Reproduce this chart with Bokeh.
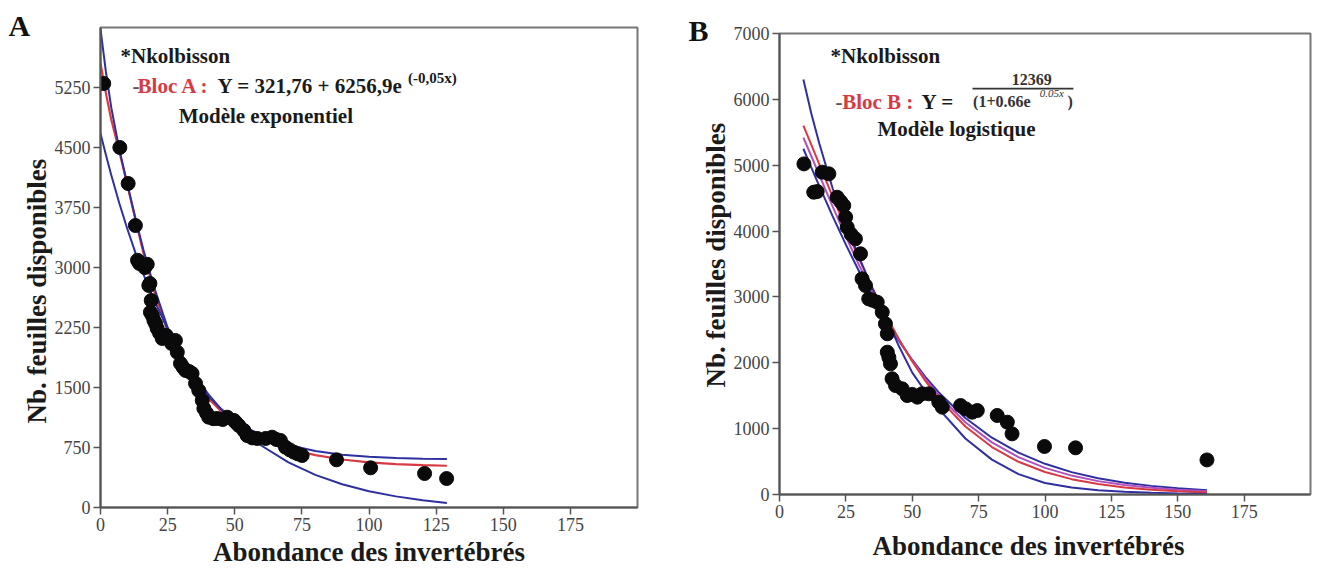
from bokeh.plotting import figure
from bokeh.models import Range1d, Label, FixedTicker, BoxAnnotation, Title
from bokeh.embed import file_html
from bokeh.resources import INLINE

# ---------------- Panel A data ----------------
a_x = [1.2, 7.2, 10.3, 13.0, 13.8, 14.5, 16.5, 17.4, 18.0, 18.4, 18.9, 18.6, 19.3, 19.9, 20.5,
       21.1, 22.0, 23.0, 24.5, 26.5, 27.9, 28.6, 29.8, 30.8, 31.7, 33.0, 34.1, 35.4, 36.6, 37.9,
       38.5, 39.5, 40.3, 42.0, 43.5, 45.5, 47.2, 49.7, 50.5, 51.5, 53.4, 54.6, 56.5, 58.4, 61.5,
       63.9, 65.5, 67.0, 68.9, 70.5, 72.0, 73.5, 75.1, 87.9, 100.6, 120.7, 128.9]
a_y = [5300, 4500, 4050, 3525, 3090, 3050, 3000, 3040, 2775, 2800, 2588, 2440, 2400, 2338, 2300,
       2238, 2180, 2113, 2150, 2050, 2088, 1941, 1800, 1750, 1713, 1700, 1675, 1550, 1463, 1338,
       1238, 1180, 1129, 1110, 1113, 1100, 1129, 1088, 1060, 1025, 963, 900, 870, 863, 863,
       879, 850, 838, 754, 720, 692, 670, 650, 596, 496, 425, 362]
a_fit_x = [0, 2, 4, 7, 10, 13, 16, 20, 25, 30, 35, 40, 45, 50, 55, 60, 70, 80, 90, 100, 110, 120, 129]
a_red = [5550, 5180, 4850, 4450, 4030, 3600, 3180, 2700, 2200, 1850, 1580, 1370, 1200, 1060, 950,
         860, 735, 655, 600, 565, 543, 530, 522]
a_blue_hi = [5980, 5450, 5000, 4480, 4040, 3620, 3220, 2750, 2250, 1890, 1610, 1400, 1230, 1090, 985,
             900, 780, 705, 660, 633, 618, 610, 605]
a_blue_lo = [4675, 4408, 4156, 3804, 3481, 3186, 2915, 2589, 2231, 1922, 1654, 1423, 1223, 1050, 901,
             772, 563, 408, 291, 204, 139, 90, 57]
a_yticks = [0, 750, 1500, 2250, 3000, 3750, 4500, 5250]

# ---------------- Panel B data ----------------
b_x = [9.2, 12.9, 14.2, 16.1, 18.6, 21.7, 23.0, 24.2, 24.9, 25.5, 27.0, 28.6, 30.5, 31.1, 32.4,
       33.6, 35.0, 36.8, 38.7, 39.9, 40.6, 40.6, 41.2, 41.8, 42.4, 43.7, 46.2, 48.1, 50.0, 51.9,
       53.7, 56.2, 60.0, 61.3, 68.2, 70.1, 72.6, 74.5, 82.0, 85.8, 87.6, 99.8, 111.5, 161.0]
b_y = [5020, 4590, 4600, 4894, 4869, 4514, 4450, 4388, 4211, 4059, 3950, 3882, 3655, 3275, 3173,
       2971, 2950, 2920, 2768, 2592, 2440, 2161, 2080, 1984, 1757, 1655, 1605, 1503, 1520, 1478,
       1529, 1529, 1402, 1326, 1351, 1301, 1250, 1275, 1200, 1098, 921, 729, 709, 525]
b_fit_x = [9, 12, 15, 20, 25, 30, 35, 40, 45, 50, 55, 60, 70, 80, 90, 100, 110, 120, 130, 140, 150, 161]
b_blue_steep = [6300, 5780, 5330, 4650, 4100, 3600, 3130, 2700, 2250, 1850, 1560, 1300, 850, 530, 310,
                175, 105, 65, 40, 25, 15, 9]
b_red = [5601, 5308, 5012, 4522, 4040, 3575, 3137, 2729, 2356, 2020, 1721, 1458, 1032, 720, 497,
         341, 233, 158, 107, 72, 49, 31]
b_purple = [5420, 5136, 4850, 4375, 3917, 3480, 3071, 2690, 2345, 2032, 1752, 1504, 1097, 791, 567,
            404, 287, 203, 144, 102, 72, 49]
b_blue_flat = [5250, 4965, 4683, 4228, 3794, 3386, 3005, 2654, 2333, 2043, 1782, 1549, 1161, 862, 636,
               466, 340, 248, 180, 131, 95, 66]
b_yticks = [0, 1000, 2000, 3000, 4000, 5000, 6000, 7000]

x_ticks = [0, 25, 50, 75, 100, 125, 150, 175]
x_title = "Abondance des invertébrés"
y_title = "Nb. feuilles disponibles"

SERIF = "Liberation Serif"
BLUE = "#2f2fa2"
RED = "#d83a44"
PURPLE = "#b04fc0"
TXT = "#1a1a1a"


def style(p, yticks, letter, l_off, l_stand, y_off):
    p.xaxis.ticker = FixedTicker(ticks=x_ticks)
    p.yaxis.ticker = FixedTicker(ticks=yticks)
    for ax in (p.xaxis[0], p.yaxis[0]):
        ax.axis_line_color = "#555555"
        ax.axis_line_width = 2
        ax.major_tick_line_color = "#555555"
        ax.major_tick_line_width = 1.5
        ax.major_tick_out = 7
        ax.major_tick_in = 0
        ax.minor_tick_line_color = None
        ax.major_label_text_font = SERIF
        ax.major_label_text_font_size = "18px"
        ax.major_label_text_color = "#444444"
        ax.major_label_standoff = 3
        ax.axis_label_text_font = SERIF
        ax.axis_label_text_font_size = "27px"
        ax.axis_label_text_font_style = "bold"
        ax.axis_label_text_color = TXT
    # panel letter as the plot title, pulled left and down
    p.title.text = letter
    p.title.align = "left"
    p.title.vertical_align = "bottom"
    p.title.offset = l_off
    p.title.standoff = l_stand
    p.title.text_font = SERIF
    p.title.text_font_size = "30px"
    p.title.text_font_style = "bold"
    p.title.text_color = "#111111"
    # y-axis title as a side title
    p.add_layout(Title(text=y_title, align="left", vertical_align="bottom", offset=y_off, standoff=0,
                       text_font=SERIF, text_font_size="27px", text_font_style="bold",
                       text_color=TXT), "left")
    p.xgrid.grid_line_color = None
    p.ygrid.grid_line_color = None
    p.outline_line_color = "#777777"
    p.outline_line_width = 2
    p.background_fill_color = "white"
    p.border_fill_color = "white"


def lab(p, x, y, text, size="21px", color=TXT, style_="bold", align="left", baseline="alphabetic",
        font=SERIF):
    p.add_layout(Label(x=x, y=y, text=text, text_font=font, text_font_size=size,
                       text_font_style=style_, text_color=color, text_align=align,
                       text_baseline=baseline))


# ---------------- Figure A ----------------
pA = figure(width=658, height=576, x_range=Range1d(0, 200), y_range=Range1d(0, 6000),
            output_backend="svg", toolbar_location=None,
            min_border_left=100, min_border_right=21, min_border_top=27, min_border_bottom=69)
style(pA, a_yticks, "A", -92, -28, 84)
pA.xaxis.axis_label = x_title
pA.xaxis.axis_label_standoff = 3
pA.line(a_fit_x, a_red, line_color=RED, line_width=2.2)
pA.line(a_fit_x, a_blue_hi, line_color=BLUE, line_width=2)
pA.line(a_fit_x, a_blue_lo, line_color=BLUE, line_width=2)
pA.scatter(a_x, a_y, size=14, fill_color="#0a0a0a", line_color="#0a0a0a")

lab(pA, 7.45, 5640, "*Nkolbisson")
lab(pA, 11.9, 5275, "-", color="#555555")
lab(pA, 13.8, 5275, "Bloc A :", color=RED)
lab(pA, 43.6, 5275, "Y = 321,76 + 6256,9e")
lab(pA, 114.5, 5370, "(-0,05x)", size="15px")
lab(pA, 29.1, 4890, "Modèle exponentiel")

# ---------------- Figure B ----------------
pB = figure(width=659, height=576, x_range=Range1d(0, 200), y_range=Range1d(0, 7000),
            output_backend="svg", toolbar_location=None,
            min_border_left=121, min_border_right=7, min_border_top=33, min_border_bottom=82)
style(pB, b_yticks, "B", -91, -27, 107)
pB.add_layout(Title(text=x_title, align="left", vertical_align="top", offset=93, standoff=20,
                    text_font=SERIF, text_font_size="27px", text_font_style="bold",
                    text_color=TXT), "below")
pB.line(b_fit_x, b_blue_flat, line_color=BLUE, line_width=2)
pB.line(b_fit_x, b_purple, line_color=PURPLE, line_width=2)
pB.line(b_fit_x, b_red, line_color=RED, line_width=2)
pB.line(b_fit_x, b_blue_steep, line_color=BLUE, line_width=2)
pB.scatter(b_x, b_y, size=14, fill_color="#0a0a0a", line_color="#0a0a0a")

lab(pB, 19.2, 6665, "*Nkolbisson")
lab(pB, 21.1, 5967, "-", color="#555555")
lab(pB, 23.6, 5967, "Bloc B :", color=RED)
lab(pB, 53.5, 5967, "Y =")
lab(pB, 95.0, 6300, "12369", size="16px", color="#333333", align="center")
pB.add_layout(BoxAnnotation(left=72.7, right=110.7, bottom=6150, top=6175,
                            fill_color="#333333", fill_alpha=1, line_color=None))
lab(pB, 72.9, 5970, "(1+0.66e", size="16px", color="#333333")
lab(pB, 98.0, 6095, "0.05x", size="11px", color="#333333", style_="italic")
lab(pB, 108.5, 5970, ")", size="16px", color="#333333")
lab(pB, 36.9, 5557, "Modèle logistique")

# two independent roots placed side by side (keeps each frame at its own position)
html = file_html([pA, pB], INLINE)
html = html.replace("</head>",
                    "<style>html, body { margin: 0 !important; padding: 0 !important; }"
                    " body { display: flex !important; flex-direction: row; align-items: flex-start; }"
                    "</style></head>", 1)
open("out.html", "w").write(html)
